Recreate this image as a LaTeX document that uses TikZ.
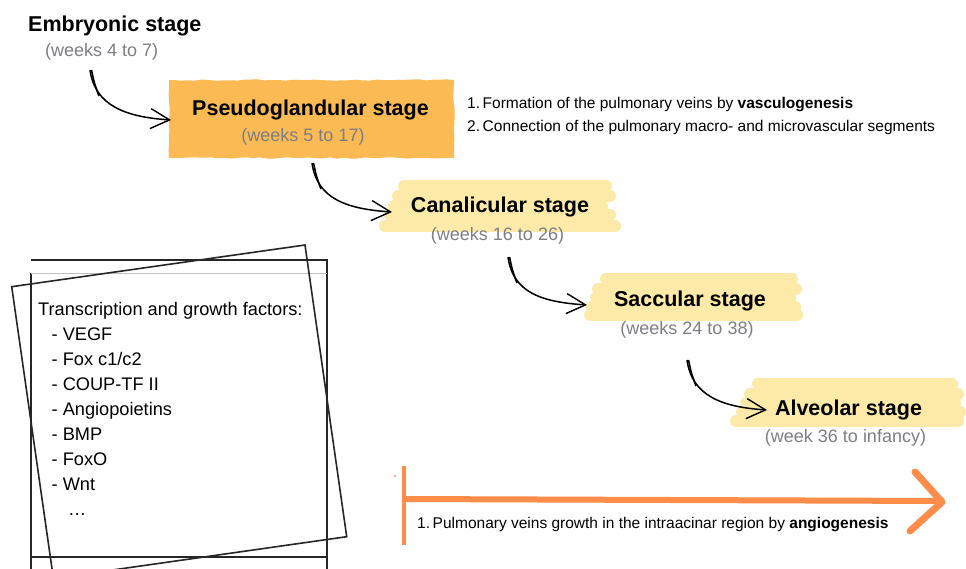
\documentclass[tikz,border=0pt]{standalone}
\usepackage{fontspec}
\setmainfont{Liberation Sans}
\usetikzlibrary{arrows.meta,decorations.pathmorphing,calc}
\definecolor{orangebox}{RGB}{251,186,84}
\definecolor{hl}{RGB}{253,234,168}
\definecolor{wk}{RGB}{125,125,132}
\definecolor{oarrow}{RGB}{255,140,72}
\begin{document}
\begin{tikzpicture}[x=1pt,y=-1pt,
  title/.style={font=\fontsize{21.5}{24}\selectfont\bfseries, inner sep=0pt, anchor=base},
  weeks/.style={font=\fontsize{18}{20}\selectfont, text=wk, inner sep=0pt, anchor=base},
  note/.style={font=\fontsize{15.5}{23}\selectfont, inner sep=0pt, align=left, anchor=base west},
  flow/.style={line width=1.5pt, -{Straight Barb[length=19pt,width=20pt,line width=1.4pt]}},
  brush/.style={hl, line width=12pt, line cap=round},
  boxline/.style={line width=1.6pt, black!85},
]
\useasboundingbox (0,0) rectangle (966,569);
\begin{scope}
\clip (0,0) rectangle (966,569);

% highlights
\foreach \y/\a/\b in {186/404/606, 196/398/610, 206/394/602, 215/390/610, 226/385/615}
  \draw[brush] (\a,\y) -- (\b,\y);
\foreach \y/\a/\b in {279/606/792, 289/598/796, 298/596/790, 307/592/795, 315/590/797}
  \draw[brush] (\a,\y) -- (\b,\y);
\foreach \y/\a/\b in {384/758/952, 394/750/958, 403/746/955, 412/742/960, 421/736/958}
  \draw[brush] (\a,\y) -- (\b,\y);

% orange box
\pgfmathsetseed{7}
\fill[orangebox, decorate, decoration={random steps, segment length=7pt, amplitude=0.7pt}]
  (169,80) rectangle (454,158);

% stage labels
\node[title, anchor=base west] (emb) at (28,32) {Embryonic stage};
\node[weeks, anchor=base west] (embw) at (45,57) {(weeks 4 to 7)};
\node[title] (pse) at (310.5,116) {Pseudoglandular stage};
\node[weeks] (psew) at (303,142) {(weeks 5 to 17)};
\node[title] (can) at (500,213) {Canalicular stage};
\node[weeks] (canw) at (497.5,241) {(weeks 16 to 26)};
\node[title] (sac) at (690,306) {Saccular stage};
\node[weeks] (sacw) at (687,334) {(weeks 24 to 38)};
\node[title] (alv) at (848.5,415) {Alveolar stage};
\node[weeks] (alvw) at (845.5,442) {(week 36 to infancy)};

% connectors
\coordinate (s1) at (90,70);   \coordinate (t1) at (171,120);
\coordinate (s2) at (312,163); \coordinate (t2) at (392,212);
\coordinate (s3) at (508,257); \coordinate (t3) at (587,305);
\coordinate (s4) at (687,360); \coordinate (t4) at (767,410);
\foreach \i in {1,2,3,4}{
  \draw[flow] (s\i) .. controls +(5,36) and +(-45,-3) .. (t\i);
  \draw[line width=1.6pt] ($(s\i)+(1.5,0)$) .. controls +(3,14) .. ($(s\i)+(9,26)$);
}

% notes
\node[note] (n1) at (467,132) {1.\,Formation of the pulmonary veins by \textbf{vasculogenesis}\\2.\,Connection of the pulmonary macro- and microvascular segments};

% factor boxes
\draw[boxline] (31,260) -- (327,260) -- (327,569);
\draw[boxline] (31,569) -- (31,273);
\draw[black!25, line width=0.8pt] (31,273) -- (327,273);
\draw[boxline] (31,557) -- (327,557);
\draw[boxline] (11.7,286.7) -- (305,245) -- (346.7,536.7) -- (53.4,578.4) -- cycle;
\node[inner sep=0pt, align=left, anchor=base west, font=\fontsize{18.2}{25}\selectfont] (tf) at (38,515)
 {Transcription and growth factors:\\
  \hspace*{13.5pt}- VEGF\\
  \hspace*{13.5pt}- Fox c1/c2\\
  \hspace*{13.5pt}- COUP-TF II\\
  \hspace*{13.5pt}- Angiopoietins\\
  \hspace*{13.5pt}- BMP\\
  \hspace*{13.5pt}- FoxO\\
  \hspace*{13.5pt}- Wnt\\
  \hspace*{30pt}…};

% orange timeline arrow
\coordinate (o0) at (404,466);
\coordinate (o1) at (404,545);
\coordinate (h0) at (404,499);
\coordinate (h1) at (940,501);
\draw[oarrow, line width=4pt] (o0) -- (o1);
\draw[oarrow, line width=6pt] (h0) -- (h1);
\draw[oarrow, line width=7pt, line cap=round, line join=round] (915,472) -- (942,502) -- (910,531);
\fill[oarrow] (395,476) circle (1.2pt);
\node[note] (n2) at (417,528) {1.\,Pulmonary veins growth in the intraacinar region by \textbf{angiogenesis}};
\end{scope}
\end{tikzpicture}
\end{document}
